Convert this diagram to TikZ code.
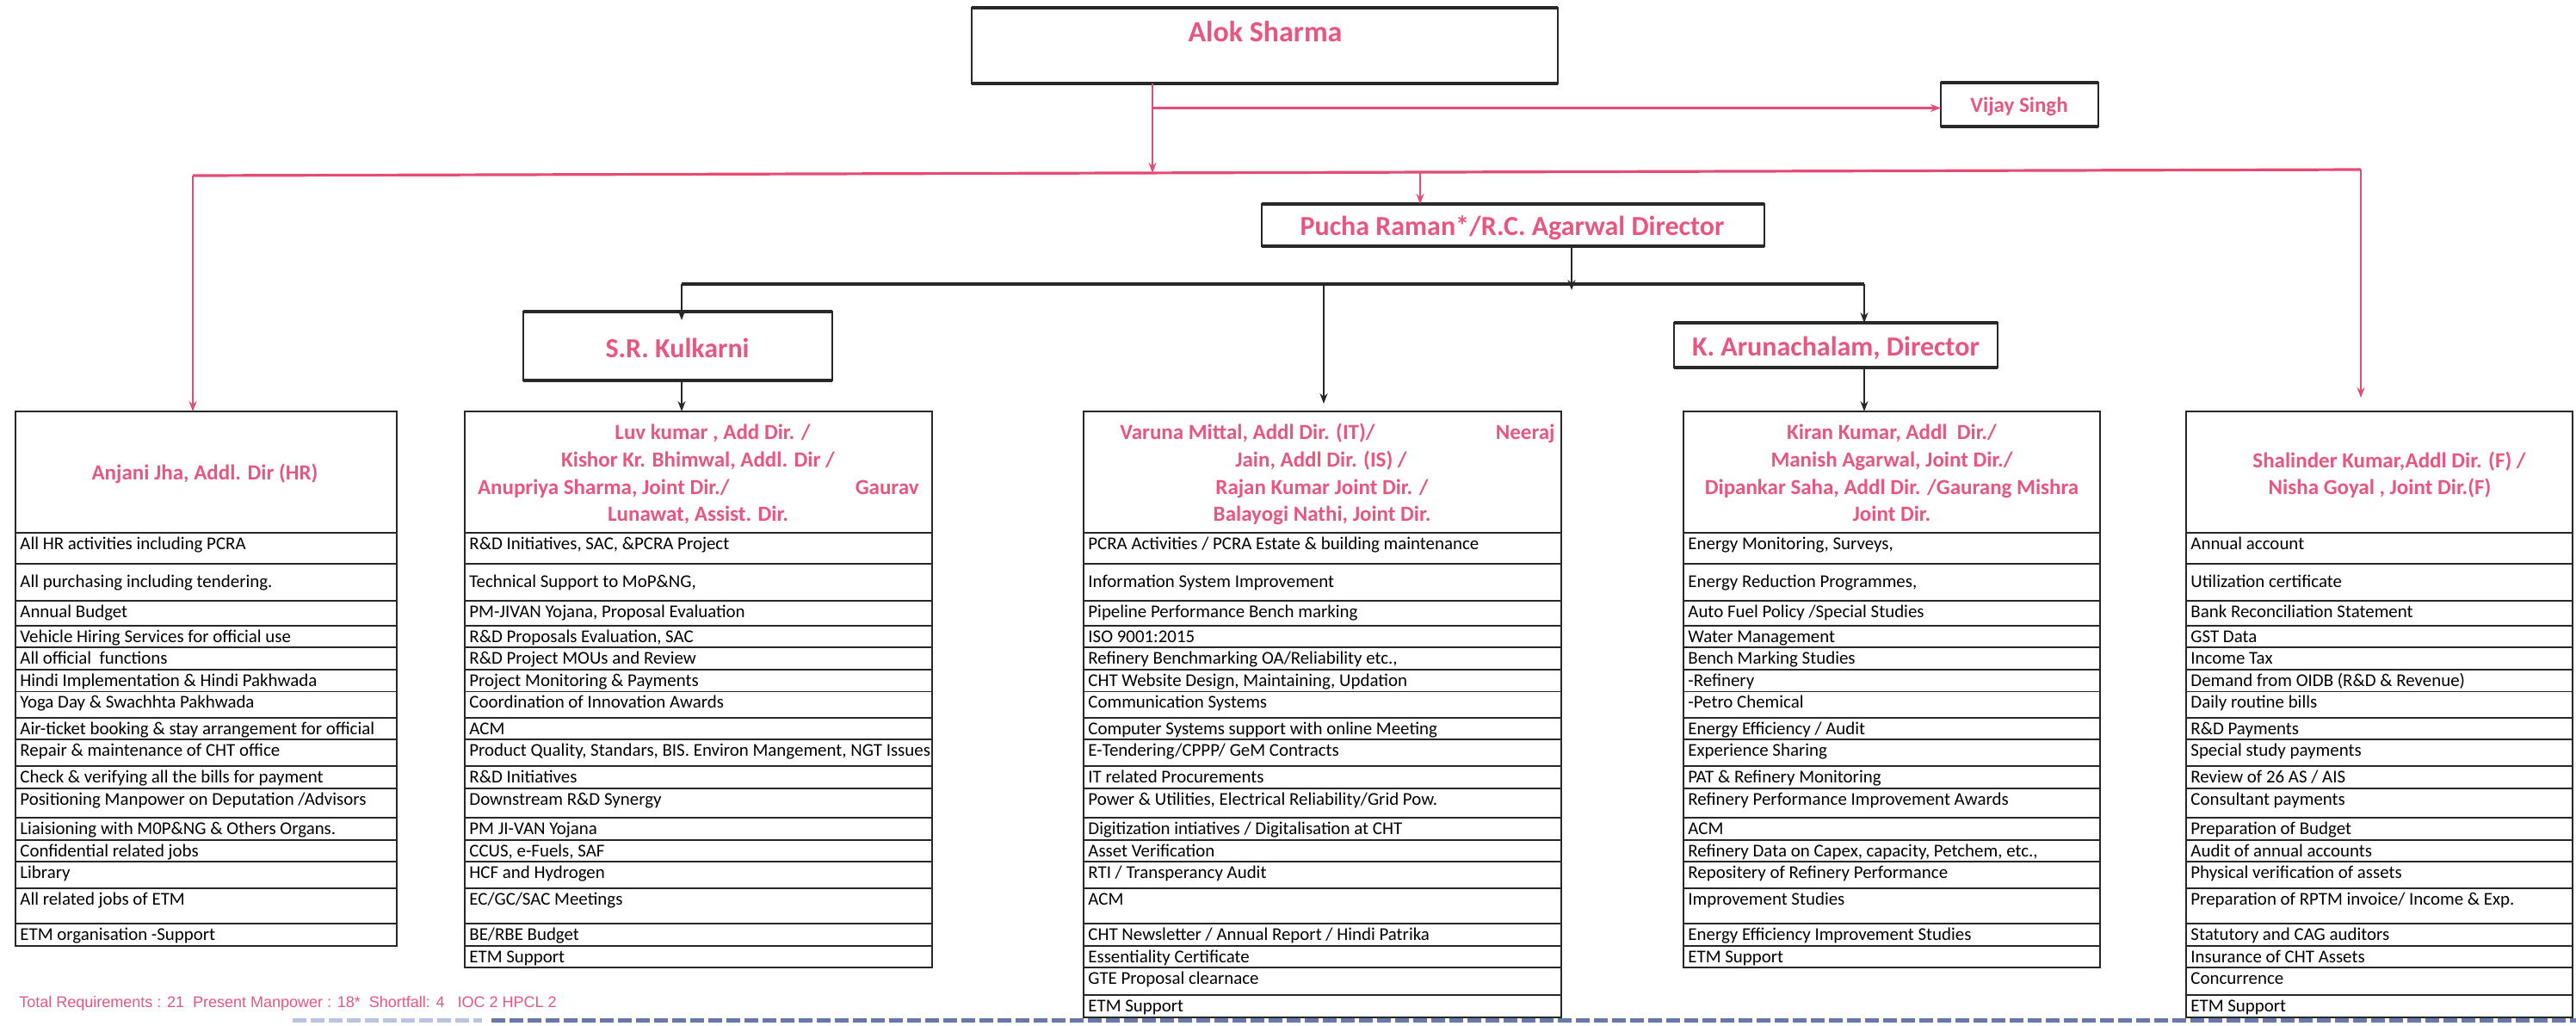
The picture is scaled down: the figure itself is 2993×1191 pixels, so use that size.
\documentclass[tikz,border=0pt]{standalone}
\usepackage{fontspec}
\setmainfont{Carlito}
\newfontfamily\arialf{Liberation Sans}
\usetikzlibrary{arrows.meta}
\definecolor{pinktxt}{RGB}{232,86,128}
\definecolor{pinkline}{RGB}{228,76,116}
\definecolor{boxline}{RGB}{40,40,40}
\definecolor{dashblue}{RGB}{105,120,172}
\definecolor{dashlight}{RGB}{185,196,226}
\def\G{{619,655,698,727,752,778,803.5,834,859,890,916,950,976,1001,1032,1073,1099,1124,1156,1182}}
\tikzset{
  topbox/.style={draw=boxline, line width=1.2pt, inner sep=0pt, outer sep=0pt, anchor=north west},
  toptext/.style={text=pinktxt, font=\fontsize{16}{19}\selectfont\bfseries, inner sep=0pt, anchor=base},
  tablebox/.style={draw=boxline, line width=1.3pt, inner sep=0pt, outer sep=0pt, anchor=north west},
  rowline/.style={draw=boxline, line width=0.8pt},
  rowtext/.style={font=\fontsize{10.45}{12}\selectfont, inner sep=0pt, anchor=base west, text=black},
  headtext/.style={text=pinktxt, font=\fontsize{12.5}{15}\selectfont\bfseries, inner sep=0pt, anchor=base},
  redcon/.style={draw=pinkline, line width=1pt},
  redbus/.style={draw=pinkline, line width=1.6pt},
  blackcon/.style={draw=black!85, line width=1.1pt},
  blackbus/.style={draw=black!85, line width=2pt},
  arrowed/.style={-{Stealth[length=6pt,width=4.5pt]}},
  edgethick/.style={draw=boxline, line width=2pt}
}
\newcommand\mktable[7]{%
  \node[tablebox, minimum width=#5, minimum height=#6] (#1) at (#2,478) {};
  \foreach \k in {0,...,#4}{%
    \pgfmathsetmacro\yl{\G[\k]}%
    \draw[rowline] (#2,\yl) -- (#3,\yl);
  }%
  \foreach \t [count=\i from 0] in {#7}{%
    \pgfmathsetmacro\yy{\G[\i]+(\i==1 ? 27 : 19)}%
    \node[rowtext] (#1r\i) at (#2+5,\yy) {\t};
  }%
}
\begin{document}
\begin{tikzpicture}[x=0.5pt,y=-0.5pt]
\useasboundingbox (0,0) rectangle (2993,1191);

% top boxes
\node[topbox, minimum width=340.5pt, minimum height=44pt] (alok) at (1129,9) {};
\node[topbox, minimum width=91.5pt, minimum height=25.5pt] (vijay) at (2255,96) {};
\node[topbox, minimum width=292pt, minimum height=24.5pt] (pucha) at (1466,237) {};
\node[topbox, minimum width=179.5pt, minimum height=40pt] (kulk) at (608,362) {};
\node[topbox, minimum width=188pt, minimum height=26pt] (arun) at (1945,375) {};
\foreach \b in {alok,vijay,pucha,kulk,arun}{
  \draw[edgethick] (\b.north west) -- (\b.north east);
  \draw[edgethick] (\b.south west) -- (\b.south east);
}
\node[toptext, font=\fontsize{17}{20}\selectfont\bfseries] (alokT) at (1470,48) {Alok Sharma};
\node[toptext, font=\fontsize{12.5}{15}\selectfont\bfseries] (vijayT) at (2346,130) {Vijay Singh};
\node[toptext] (puchaT) at (1757,273) {Pucha Raman*/R.C. Agarwal Director};
\node[toptext] (kulkT) at (787,415) {S.R. Kulkarni};
\node[toptext] (arunT) at (2133,413) {K. Arunachalam, Director};

% tables
\mktable{t1}{18}{461}{15}{221.5pt}{310.5pt}{%
  {All HR activities including PCRA},
  {All purchasing including tendering.},
  {Annual Budget},
  {Vehicle Hiring Services for official use},
  {All official~ functions},
  {Hindi Implementation \& Hindi Pakhwada},
  {Yoga Day \& Swachhta Pakhwada},
  {Air-ticket booking \& stay arrangement for official},
  {Repair \& maintenance of CHT office},
  {Check \& verifying all the bills for payment},
  {Positioning Manpower on Deputation /Advisors},
  {Liaisioning with M0P\&NG \& Others Organs.},
  {Confidential related jobs},
  {Library},
  {All related jobs of ETM},
  {ETM organisation -Support}}
\mktable{t2}{540}{1083}{16}{271.5pt}{323pt}{%
  {R\&D Initiatives, SAC, \&PCRA Project},
  {Technical Support to MoP\&NG,},
  {PM-JIVAN Yojana, Proposal Evaluation},
  {R\&D Proposals Evaluation, SAC},
  {R\&D Project MOUs and Review},
  {Project Monitoring \& Payments},
  {Coordination of Innovation Awards},
  {ACM},
  {Product Quality, Standars, BIS. Environ Mangement, NGT Issues},
  {R\&D Initiatives},
  {Downstream R\&D Synergy},
  {PM JI-VAN Yojana},
  {CCUS, e-Fuels, SAF},
  {HCF and Hydrogen},
  {EC/GC/SAC Meetings},
  {BE/RBE Budget},
  {ETM Support}}
\mktable{t3}{1259}{1814}{18}{277.5pt}{352pt}{%
  {PCRA Activities / PCRA Estate \& building maintenance},
  {Information System Improvement},
  {Pipeline Performance Bench marking},
  {ISO 9001:2015},
  {Refinery Benchmarking OA/Reliability etc.,},
  {CHT Website Design, Maintaining, Updation},
  {Communication Systems},
  {Computer Systems support with online Meeting},
  {E-Tendering/CPPP/ GeM Contracts},
  {IT related Procurements},
  {Power \& Utilities, Electrical Reliability/Grid Pow.},
  {Digitization intiatives / Digitalisation at CHT},
  {Asset Verification},
  {RTI / Transperancy Audit},
  {ACM},
  {CHT Newsletter / Annual Report / Hindi Patrika},
  {Essentiality Certificate},
  {GTE Proposal clearnace},
  {ETM Support}}
\mktable{t4}{1956}{2440}{16}{242pt}{323pt}{%
  {Energy Monitoring, Surveys,},
  {Energy Reduction Programmes,},
  {Auto Fuel Policy /Special Studies},
  {Water Management},
  {Bench Marking Studies},
  {-Refinery},
  {-Petro Chemical},
  {Energy Efficiency / Audit},
  {Experience Sharing},
  {PAT \& Refinery Monitoring},
  {Refinery Performance Improvement Awards},
  {ACM},
  {Refinery Data on Capex, capacity, Petchem, etc.,},
  {Repositery of Refinery Performance},
  {Improvement Studies},
  {Energy Efficiency Improvement Studies},
  {ETM Support}}
\mktable{t6}{2540}{2989}{18}{224.5pt}{352pt}{%
  {Annual account},
  {Utilization certificate},
  {Bank Reconciliation Statement},
  {GST Data},
  {Income Tax},
  {Demand from OIDB (R\&D \& Revenue)},
  {Daily routine bills},
  {R\&D Payments},
  {Special study payments},
  {Review of 26 AS / AIS},
  {Consultant payments},
  {Preparation of Budget},
  {Audit of annual accounts},
  {Physical verification of assets},
  {Preparation of RPTM invoice/ Income \& Exp.},
  {Statutory and CAG auditors},
  {Insurance of CHT Assets},
  {Concurrence},
  {ETM Support}}

% table headers
\node[headtext] (h1) at (238,557) {Anjani Jha, Addl. Dir (HR)};
\node[headtext] (h2a) at (828,510.6) {Luv kumar , Add Dir. /};
\node[headtext] (h2b) at (811,542) {Kishor Kr. Bhimwal, Addl. Dir /};
\node[headtext, anchor=base west] (h2c) at (554.6,574) {Anupriya Sharma, Joint Dir./};
\node[headtext, anchor=base east] (h2d) at (1068,574) {Gaurav};
\node[headtext] (h2e) at (811,605) {Lunawat, Assist. Dir.};
\node[headtext, anchor=base west] (h3a) at (1301,510.6) {Varuna Mittal, Addl Dir. (IT)/};
\node[headtext, anchor=base east] (h3b) at (1807,510.6) {Neeraj};
\node[headtext] (h3c) at (1535,542) {Jain, Addl Dir. (IS) /};
\node[headtext] (h3d) at (1536,574) {Rajan Kumar Joint Dir. /};
\node[headtext] (h3e) at (1536,605) {Balayogi Nathi, Joint Dir.};
\node[headtext] (h4a) at (2198,510.6) {Kiran Kumar, Addl~ Dir./};
\node[headtext] (h4b) at (2198,542) {Manish Agarwal, Joint Dir./};
\node[headtext] (h4c) at (2198,574) {Dipankar Saha, Addl Dir. /Gaurang Mishra};
\node[headtext] (h4d) at (2198,605) {Joint Dir.};
\node[headtext] (h6a) at (2776,543.5) {Shalinder Kumar,Addl Dir. (F) /};
\node[headtext] (h6b) at (2765,574.5) {Nisha Goyal , Joint Dir.(F)};

% red connectors
\coordinate (busL) at (224,204);
\coordinate (busR) at (2743,197);
\coordinate (jA) at (1339,200.9);
\coordinate (jV) at (1339,125.5);
\coordinate (jP) at (1650,200);
\draw[redbus] (busL) -- (busR);
\draw[redcon, arrowed] (alok.south -| jA) -- (jA);
\draw[redbus, arrowed] (jV) -- (vijay.west |- jV);
\draw[redcon, arrowed] (busL) -- (busL |- t1.north);
\draw[redcon, arrowed] (jP) -- (jP |- pucha.north);
\draw[redcon, arrowed, shorten >=8pt] (busR) -- (busR |- t6.north);

% black connectors
\coordinate (kbL) at (792,330);
\coordinate (kbR) at (2166,330);
\coordinate (kbP) at (1826,337);
\coordinate (kbV) at (1538,330);
\draw[blackbus] (kbL) -- (kbR);
\draw[blackcon, arrowed] (pucha.south -| kbP) -- (kbP);
\draw[blackcon, arrowed, shorten >=-5pt] (kbL) -- (kbL |- kulk.north);
\draw[blackcon, arrowed, shorten >=4.5pt] (kbV) -- (kbV |- t3.north);
\draw[blackcon, arrowed] (kbR) -- (kbR |- arun.north);
\draw[blackcon, arrowed] (kulk.south -| kbL) -- (kbL |- t2.north);
\draw[blackcon, arrowed] (arun.south -| kbR) -- (kbR |- t4.north);

% footer
\node[anchor=base west, text=pinktxt, font=\arialf\fontsize{9}{11}\selectfont, inner sep=0pt] (total) at (22,1170.5) {Total Requirements : 21\ \ Present Manpower : 18*\ \ Shortfall: 4\ \ \ IOC 2 HPCL 2};
\draw[dashlight, line width=2.5pt, dash pattern=on 8pt off 2.5pt] (340,1185.5) -- (560,1185.5);
\draw[dashblue, line width=2.5pt, dash pattern=on 8pt off 2.5pt] (570.5,1185.5) -- (2993,1185.5);
\end{tikzpicture}
\end{document}
